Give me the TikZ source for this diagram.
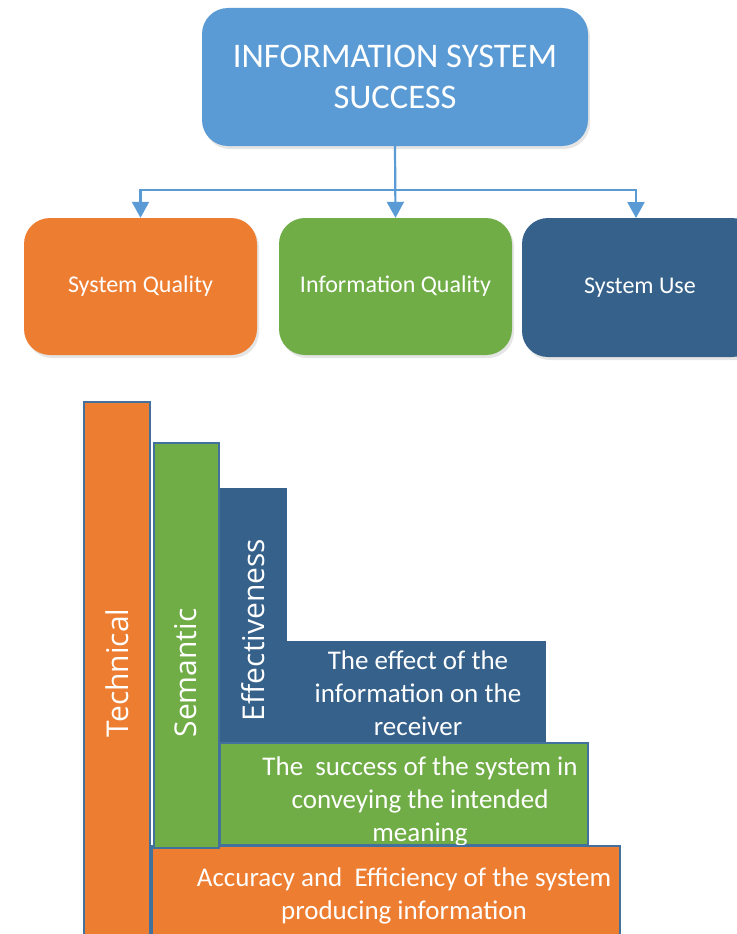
\documentclass[tikz,border=0pt]{standalone}
\usepackage{fontspec}
\setmainfont{Carlito}
\newfontfamily\osans{Open Sans}
\usetikzlibrary{arrows.meta,shadows}
\definecolor{topblue}{HTML}{5B9BD5}
\definecolor{offorange}{HTML}{ED7D31}
\definecolor{offgreen}{HTML}{70AD47}
\definecolor{darkblue}{HTML}{36618A}
\definecolor{edgeblue}{HTML}{41719C}
\tikzset{
  rbox/.style={rounded corners=26pt, text=white, align=center,
    drop shadow={opacity=0.2, shadow xshift=2pt, shadow yshift=-3pt}},
  arr/.style={draw=topblue, line width=2.2pt, -{Triangle[width=17pt,length=16pt]}},
  barfill/.style={draw=edgeblue, line width=2.6pt},
  vtext/.style={rotate=90, text=white, font=\osans\fontsize{30}{34}\selectfont},
  ptext/.style={text=white, align=center, font=\fontsize{27}{33}\selectfont},
  lbl/.style={font=\fontsize{24}{28}\selectfont}
}
\begin{document}
\begin{tikzpicture}[x=1pt,y=-1pt]
\useasboundingbox (0,0) rectangle (736,934);
\fill[white] (0,0) rectangle (736,934);
% top
\node[rbox, fill=topblue, minimum width=386pt, minimum height=138pt,
  font=\fontsize{34.5}{41}\selectfont] (iss) at (395,77) {INFORMATION SYSTEM\\SUCCESS};
\node[rbox, lbl, fill=offorange, minimum width=233pt, minimum height=137pt] (sq) at (140.5,286.5) {System Quality};
\node[rbox, lbl, fill=offgreen, minimum width=233pt, minimum height=137pt] (iq) at (395.5,286.5) {Information Quality};
\node[rbox, lbl, fill=darkblue, minimum width=236pt, minimum height=139pt] (su) at (640,287.5) {System Use};
\coordinate (j) at (395,190);
\coordinate (sut) at (636,218);
\draw[arr] (iss.south) -- (iq.north);
\draw[arr] (j) -| (sq.north);
\draw[arr] (j) -| (sut);
% bottom
\draw[barfill, fill=offorange] (84,402) rectangle (150,950);
\draw[draw=darkblue, fill=darkblue] (219,488) rectangle (286,742);
\draw[draw=darkblue, fill=darkblue] (286,641) rectangle (545,742);
\draw[draw=edgeblue, line width=1.5pt, fill=offgreen] (220,743) rectangle (588,845);
\node[ptext] (effect) at (418,693) {The effect of the\\information on the\\receiver};
\node[ptext] (success) at (420,801) {The\ \ success of the system in\\conveying the intended\\meaning};
\draw[barfill, fill=offorange] (152,846) rectangle (620,950);
\draw[barfill, fill=offgreen] (154,443) rectangle (219,848);
\node[ptext] (acc) at (404,896) {Accuracy and\ \ Efficiency of the system\\producing information};
\node[vtext] (tech) at (117,673) {Technical};
\node[vtext] (sem) at (186,673) {Semantic};
\node[vtext] (effv) at (253,630) {Effectiveness};
\end{tikzpicture}
\end{document}
